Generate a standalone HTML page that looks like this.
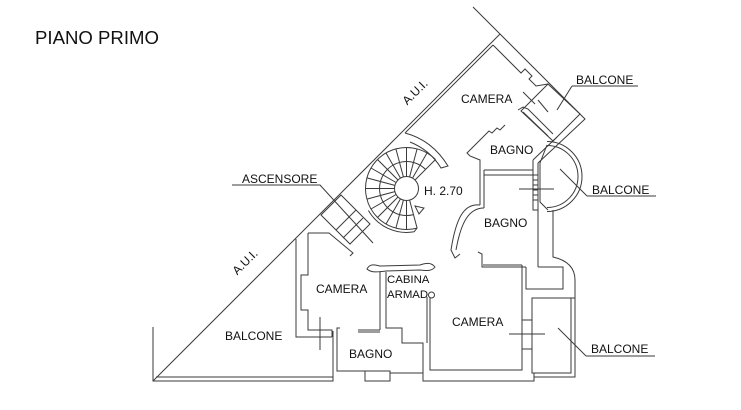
<!DOCTYPE html>
<html><head><meta charset="utf-8"><style>
html,body{margin:0;padding:0;background:#fff;}
svg{display:block;}
text{font-family:"Liberation Sans",Arial,sans-serif;fill:#111;}
</style></head><body>
<svg width="741" height="410" viewBox="0 0 741 410" xmlns="http://www.w3.org/2000/svg">
<rect width="741" height="410" fill="#fff"/>
<g fill="none" stroke="#3a3a3a" stroke-width="1">
<!-- outer boundary -->
<polyline points="473,7 500,34 585,119 538,163"/>
<line x1="500" y1="34" x2="153" y2="381"/>
<polyline points="493,45 405,133"/>
<polyline points="153,327 153,381 333,381 333,331"/>
<line x1="156" y1="377" x2="333" y2="377"/>

<!-- top camera right wall & balcony -->
<polyline points="493,45 521,73 525,69 532,76 529,79 536,86 548,84"/>
<polygon points="548,84 521,111 553,141 580,114"/>
<line x1="523" y1="92" x2="535" y2="104"/>
<line x1="538" y1="100" x2="548" y2="112"/>
<polyline points="518,110 523,107 528,109 553,134"/>
<line x1="523" y1="112" x2="548" y2="136"/>
<line x1="533" y1="160" x2="557" y2="137"/>
<line x1="557" y1="110" x2="572" y2="86"/>
<line x1="572" y1="86" x2="638" y2="86"/>

<!-- upper bagno -->
<polyline points="505,125 500,130 497,128 492,133 489,131 467,153 470,156 480,160 480,205"/>
<line x1="484" y1="170" x2="533" y2="170"/>
<line x1="484" y1="175" x2="538" y2="175"/>
<polyline points="533,160 533,210 538,210"/>
<line x1="538" y1="163" x2="538" y2="267"/>
<line x1="484" y1="170" x2="484" y2="208"/>
<line x1="533" y1="180" x2="538" y2="180"/>
<line x1="533" y1="185" x2="538" y2="185"/>
<line x1="533" y1="190" x2="538" y2="190"/>
<line x1="533" y1="195" x2="538" y2="195"/>
<line x1="533" y1="200" x2="538" y2="200"/>
<line x1="519" y1="189" x2="554" y2="189"/>

<!-- semicircle balcony -->
<path d="M547,141.5 A35,35 0 0 1 547,211.5"/>
<path d="M547,145.5 A31,31 0 0 1 547,207.5"/>
<polyline points="547,145 540,163 540,202 548,210"/>
<line x1="560" y1="169" x2="587" y2="196"/>
<line x1="587" y1="196" x2="656" y2="196"/>

<!-- big bagno right wall -->
<path d="M553,210 L553,257 Q575,262 575,280 L575,377 L534,377"/>
<polyline points="538,267 563,267 563,289 526,289 526,267"/>
<polyline points="478,252 482,254 482,267 526,267"/>
<line x1="483" y1="265" x2="522" y2="265"/>
<!-- curved door -->
<path d="M480,205 C464,203 456,218 451,250 L455,258 L460,254"/>
<path d="M484,208 C469,208 461,222 456,250"/>

<!-- bottom right camera -->
<polyline points="522,265 522,370 430,370 430,298"/>
<polyline points="423,373 423,381 534,381 534,373"/>
<rect x="532" y="298" width="39" height="75"/>
<line x1="571" y1="298" x2="575" y2="298"/>
<line x1="522" y1="320" x2="532" y2="320"/>
<line x1="522" y1="349" x2="532" y2="349"/>
<line x1="509" y1="334" x2="545" y2="334"/>
<line x1="558" y1="328" x2="586" y2="356"/>
<line x1="586" y1="356" x2="655" y2="356"/>

<!-- cabina -->
<line x1="380" y1="272" x2="380" y2="330"/>
<polyline points="386,272 386,328 402,328 402,343 423,343 423,373 390,373"/>
<line x1="427" y1="297" x2="427" y2="343"/>
<circle cx="431.5" cy="295" r="3"/>
<path d="M367,269 C370,263 375,265 380,266 L420,265 C426,263 431,262 435,267 C432,271 427,271 420,270 L386,271 C378,272 371,273 367,269 Z"/>

<!-- bagno bottom -->
<polyline points="340,328 337,328 337,371 365,371"/>
<rect x="365" y="371" width="25" height="10"/>
<line x1="358" y1="330" x2="380" y2="330"/>
<line x1="358" y1="332" x2="380" y2="332"/>

<!-- left camera -->
<polyline points="296,239 296,337 332,337"/>
<polyline points="308,233 329,233 353,253 350,256"/>
<polyline points="308,233 308,275 301,275 301,310 308,310 308,330 332,330 332,337"/>
<line x1="320" y1="317" x2="320" y2="350"/>

<!-- ascensore -->
<polygon points="321,215 341,195 370,224 350,244"/>
<line x1="336" y1="230" x2="356" y2="210"/>
<line x1="343" y1="238" x2="363" y2="218"/>
<polyline points="232,185 320,185 373,243"/>

<!-- stair -->
<circle cx="406.5" cy="188.5" r="12"/>
<path d="M435.5,159.5 A41,41 0 1 0 417.1,228.1"/>
<path d="M425.6,169.4 A27,27 0 1 0 413.5,214.6"/>
<path d="M368.4,210.5 A44,44 0 0 0 414.1,231.8 L417.1,228.1"/>
<path d="M405,133 Q432,140 448,166 L441,168 Q430,150 410,142"/>
<polygon points="415,206 424,208 419,214"/>
<line x1="415.0" y1="180.0" x2="435.5" y2="159.5"/>
<line x1="412.5" y1="178.1" x2="427.0" y2="153.0"/>
<line x1="409.6" y1="176.9" x2="417.1" y2="148.9"/>
<line x1="406.5" y1="176.5" x2="406.5" y2="147.5"/>
<line x1="403.4" y1="176.9" x2="395.9" y2="148.9"/>
<line x1="400.5" y1="178.1" x2="386.0" y2="153.0"/>
<line x1="398.0" y1="180.0" x2="377.5" y2="159.5"/>
<line x1="396.1" y1="182.5" x2="371.0" y2="168.0"/>
<line x1="394.9" y1="185.4" x2="366.9" y2="177.9"/>
<line x1="394.5" y1="188.5" x2="365.5" y2="188.5"/>
<line x1="394.9" y1="191.6" x2="366.9" y2="199.1"/>
<line x1="396.1" y1="194.5" x2="371.0" y2="209.0"/>
<line x1="398.0" y1="197.0" x2="377.5" y2="217.5"/>
<line x1="400.5" y1="198.9" x2="386.0" y2="224.0"/>
<line x1="403.4" y1="200.1" x2="395.9" y2="228.1"/>
<line x1="406.5" y1="200.5" x2="406.5" y2="229.5"/>
<line x1="409.6" y1="200.1" x2="417.1" y2="228.1"/>
</g>

<text x="35" y="44" font-size="18.6">PIANO PRIMO</text>
<text x="242" y="183" font-size="12">ASCENSORE</text>
<text x="415" y="96" font-size="12" text-anchor="middle" transform="rotate(-45 415 92)">A.U.I.</text>
<text x="245" y="266" font-size="12" text-anchor="middle" transform="rotate(-45 245 262)">A.U.I.</text>
<text x="461" y="103" font-size="12">CAMERA</text>
<text x="576" y="84" font-size="12">BALCONE</text>
<text x="490" y="154" font-size="12">BAGNO</text>
<text x="424" y="195" font-size="12">H. 2.70</text>
<text x="592" y="194" font-size="12">BALCONE</text>
<text x="484" y="227" font-size="12">BAGNO</text>
<text x="316" y="293" font-size="12">CAMERA</text>
<text x="387" y="283" font-size="11.4">CABINA</text>
<text x="387" y="298" font-size="11.4">ARMAD</text>
<text x="225" y="340" font-size="12">BALCONE</text>
<text x="452" y="326" font-size="12">CAMERA</text>
<text x="349" y="358" font-size="12">BAGNO</text>
<text x="591" y="353" font-size="12">BALCONE</text>
</svg>
</body></html>
